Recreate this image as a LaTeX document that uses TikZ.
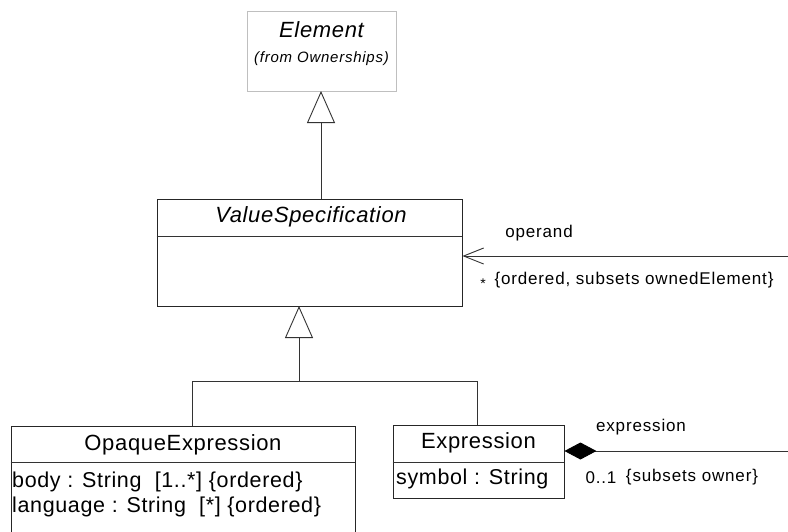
\documentclass[tikz,border=0pt]{standalone}
\usepackage{fontspec}
\setmainfont{Liberation Sans}
\newfontfamily\umlfont[LetterSpace=3]{Liberation Sans}
\newfontfamily\umlsmall[LetterSpace=5]{Liberation Sans}
\usetikzlibrary{arrows.meta}
\begin{document}
\begin{tikzpicture}[x=1pt,y=-1pt,
  box/.style={draw=black!85, line width=0.9pt, inner sep=0pt, fill=white},
  ln/.style={draw=black!80, line width=0.9pt},
  cls/.style={inner sep=0pt, font=\umlfont\fontsize{22pt}{24pt}\selectfont},
  attr/.style={inner sep=0pt, anchor=west, font=\umlfont\fontsize{21.5pt}{24pt}\selectfont},
  lbl/.style={inner sep=0pt, font=\umlsmall\fontsize{17pt}{20pt}\selectfont},
  gen/.style={ln, -{Triangle[open, length=32pt, width=28pt, fill=white, line width=0.9pt]}}
]
\useasboundingbox (0,0) rectangle (788,531);

% boxes
\node[box, draw=black!25, minimum width=149pt, minimum height=80pt] (elem) at (321.5,51) {};
\node[cls, font=\umlfont\itshape\fontsize{22pt}{24pt}\selectfont] (elemname) at (321.5,30) {Element};
\node[inner sep=0pt, font=\umlsmall\itshape\fontsize{15pt}{18pt}\selectfont] (elemfrom) at (321.5,59) {(from Ownerships)};

\node[box, minimum width=305pt, minimum height=107pt] (vs) at (309.5,252.5) {};
\node[cls, font=\umlfont\itshape\fontsize{22pt}{24pt}\selectfont] (vsname) at (311,217) {ValueSpecification};
\coordinate (vsdiv) at (0,236);
\draw[ln] (vs.west |- vsdiv) -- (vs.east |- vsdiv);

\node[box, minimum width=344pt, minimum height=112pt] (oe) at (183,482) {};
\node[cls] (oename) at (183,445) {OpaqueExpression};
\coordinate (oediv) at (0,462);
\draw[ln] (oe.west |- oediv) -- (oe.east |- oediv);
\node[attr] (oebody) at (12,482) {body : String \ [1..*] {\{}ordered{\}}};
\node[attr] (oelang) at (12,507) {language : String \ [*] {\{}ordered{\}}};

\node[box, minimum width=171pt, minimum height=73pt] (ex) at (478.5,461.5) {};
\node[cls] (exname) at (478.5,443) {Expression};
\coordinate (exdiv) at (0,462);
\draw[ln] (ex.west |- exdiv) -- (ex.east |- exdiv);
\node[attr] (exsym) at (396,479) {symbol : String};

% generalization Element <- ValueSpecification
\coordinate (g1top) at (321,91);
\draw[gen] (vs.north -| g1top) -- (g1top);

% generalization ValueSpecification <- subclasses
\coordinate (g2top) at (299,306);
\coordinate (g2bar) at (299,381);
\coordinate (oetop) at (192,426);
\coordinate (extop) at (477,425);
\draw[gen] (g2bar) -- (g2top);
\draw[ln] (oetop) -- (oetop |- g2bar) -- (extop |- g2bar) -- (extop);

% operand association
\coordinate (opline) at (0,256);
\coordinate (opfree) at (788,256);
\draw[ln, -{Straight Barb[length=20pt, width=16pt, line width=0.9pt]}] (opfree) -- (vs.east |- opline);
\node[lbl] (oplbl) at (539,233) {operand};
\node[lbl, font=\umlsmall\fontsize{14pt}{16pt}\selectfont] (opstar) at (483,284) {*};
\node[lbl] (opcons) at (634,280) {{\{}ordered, subsets ownedElement{\}}};

% expression composition
\coordinate (cmline) at (0,451);
\coordinate (cmfree) at (788,451);
\draw[ln, {Diamond[length=32pt, width=17pt, fill=black, color=black]}-] (ex.east |- cmline) -- (cmfree);
\node[lbl] (cmlbl) at (641,427) {expression};
\node[lbl] (cmmult) at (601,478) {0..1};
\node[lbl] (cmcons) at (692,477) {{\{}subsets owner{\}}};
\end{tikzpicture}
\end{document}
